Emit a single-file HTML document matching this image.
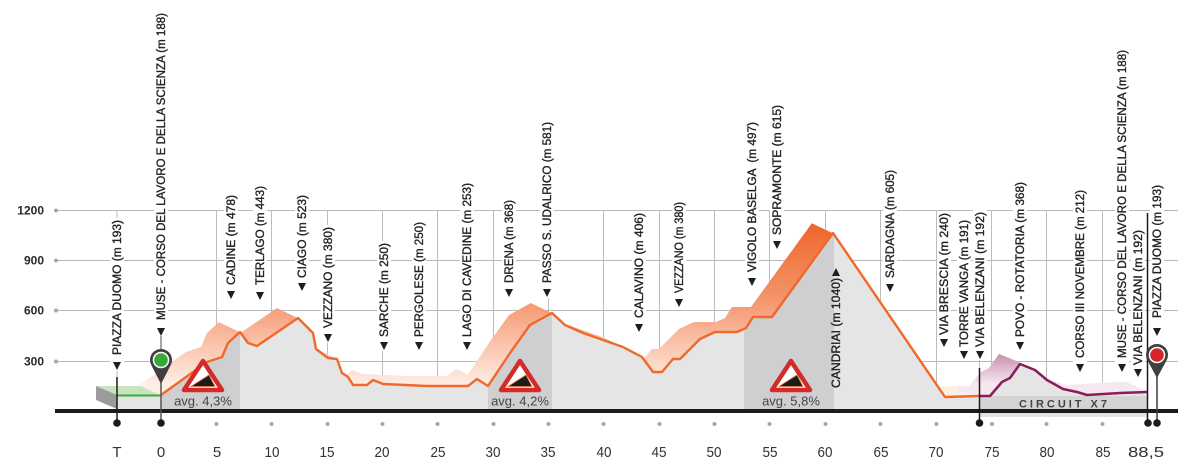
<!DOCTYPE html>
<html><head><meta charset="utf-8"><style>
html,body{margin:0;padding:0;background:#fff;}
svg{display:block;}
text{font-family:"Liberation Sans",sans-serif;}
</style></head><body>
<svg width="1200" height="469" viewBox="0 0 1200 469" xmlns="http://www.w3.org/2000/svg">
<defs>
<linearGradient id="og" gradientUnits="userSpaceOnUse" x1="0" y1="222" x2="0" y2="395">
<stop offset="0" stop-color="#ee5f22"/><stop offset="0.5" stop-color="#f4946a"/><stop offset="1" stop-color="#feeee6"/>
</linearGradient>
<linearGradient id="pg" gradientUnits="userSpaceOnUse" x1="0" y1="352" x2="0" y2="394">
<stop offset="0" stop-color="#b86b94"/><stop offset="1" stop-color="#f6e8ef"/>
</linearGradient>
<polygon id="oshape" points="161,395 207,362 222,357 228,343 240,332 248,343 257,346 298,318 313,333 316,349 328,358 337,359 342,373 348,377 353,385 367,385 373,380 383,384 427,386 468,386 477,379 488,386 510,353 530,325 552,313 565,325 583,333 623,347 642,357 653,372 662,372 673,359 680,359 700,339 715,332 737,332 746,328 753,317 772,317 833,233 945,397 979,396 979,400 161,400"/>
<polygon id="pshape" points="979,396 990,396 1002,382 1010,378 1020,364 1035,370 1047,380 1063,389 1077,392 1087,395 1120,393 1148,392 1148,400 979,400"/>
<clipPath id="mainclip"><polygon points="117,395 161,395 207,362 222,357 228,343 240,332 248,343 257,346 298,318 313,333 316,349 328,358 337,359 342,373 348,377 353,385 367,385 373,380 383,384 427,386 468,386 477,379 488,386 510,353 530,325 552,313 565,325 583,333 623,347 642,357 653,372 662,372 673,359 680,359 700,339 715,332 737,332 746,328 753,317 772,317 833,233 945,397 979,396 990,396 1002,382 1010,378 1020,364 1035,370 1047,380 1063,389 1077,392 1087,395 1120,393 1148,392 1148,409 117,409"/></clipPath>
</defs>

<!-- horizontal grid -->
<g stroke="#b8b8b8" stroke-width="1">
<line x1="56" y1="210.5" x2="1178" y2="210.5"/>
<line x1="56" y1="260.5" x2="1178" y2="260.5"/>
<line x1="56" y1="310.5" x2="1178" y2="310.5"/>
<line x1="56" y1="361.5" x2="1178" y2="361.5"/>
</g>
<g fill="#a8a8a8">
<circle cx="56" cy="210.5" r="2"/><circle cx="56" cy="260.5" r="2"/><circle cx="56" cy="310.5" r="2"/><circle cx="56" cy="361.5" r="2"/>
</g>
<!-- vertical grid -->
<g stroke="#bdbdbd" stroke-width="1">
<line x1="117" y1="210" x2="117" y2="380"/>
<line x1="979.5" y1="210" x2="979.5" y2="370"/>
<line x1="216.5" y1="210" x2="216.5" y2="409"/>
<line x1="271.5" y1="210" x2="271.5" y2="409"/>
<line x1="327.5" y1="210" x2="327.5" y2="409"/>
<line x1="382.5" y1="210" x2="382.5" y2="409"/>
<line x1="437.5" y1="210" x2="437.5" y2="409"/>
<line x1="493.5" y1="210" x2="493.5" y2="409"/>
<line x1="548.5" y1="210" x2="548.5" y2="409"/>
<line x1="603.5" y1="210" x2="603.5" y2="409"/>
<line x1="659.5" y1="210" x2="659.5" y2="409"/>
<line x1="714.5" y1="210" x2="714.5" y2="409"/>
<line x1="769.5" y1="210" x2="769.5" y2="409"/>
<line x1="825.5" y1="210" x2="825.5" y2="409"/>
<line x1="880.5" y1="210" x2="880.5" y2="409"/>
<line x1="936.5" y1="210" x2="936.5" y2="409"/>
<line x1="991.5" y1="210" x2="991.5" y2="409"/>
<line x1="1046.5" y1="210" x2="1046.5" y2="409"/>
<line x1="1102.5" y1="210" x2="1102.5" y2="409"/>
</g>

<!-- label backgrounds -->
<g fill="#fff">
<rect x="110" y="218" width="14" height="153"/>
<rect x="154" y="11" width="14" height="326"/>
<rect x="224" y="193" width="14" height="107"/>
<rect x="253" y="184" width="14" height="117"/>
<rect x="295" y="193" width="14" height="99"/>
<rect x="321" y="225" width="14" height="118"/>
<rect x="377" y="241" width="14" height="110"/>
<rect x="412" y="220" width="14" height="131"/>
<rect x="460" y="181" width="14" height="170"/>
<rect x="502" y="198" width="14" height="100"/>
<rect x="540" y="120" width="14" height="178"/>
<rect x="632" y="211" width="14" height="122"/>
<rect x="672" y="200" width="14" height="108"/>
<rect x="745" y="120" width="14" height="167"/>
<rect x="770" y="103" width="14" height="147"/>
<rect x="883" y="168" width="14" height="125"/>
<rect x="937" y="211" width="14" height="137"/>
<rect x="957" y="218" width="14" height="142"/>
<rect x="973" y="210" width="14" height="150"/>
<rect x="1013" y="180" width="14" height="171"/>
<rect x="1073" y="188" width="14" height="185"/>
<rect x="1115" y="48" width="14" height="325"/>
<rect x="1131" y="228" width="14" height="150"/>
<rect x="1150" y="183" width="14" height="154"/>
</g>

<!-- labels -->
<g font-size="11.5" fill="#222" stroke="#222" stroke-width="0.35">
<text transform="translate(121,355) rotate(-90)" textLength="135" lengthAdjust="spacingAndGlyphs">PIAZZA DUOMO (m 193)</text>
<text transform="translate(165,320) rotate(-90)" textLength="307" lengthAdjust="spacingAndGlyphs">MUSE - CORSO DEL LAVORO E DELLA SCIENZA (m 188)</text>
<text transform="translate(235,285) rotate(-90)" textLength="90" lengthAdjust="spacingAndGlyphs">CADINE (m 478)</text>
<text transform="translate(264,285) rotate(-90)" textLength="99" lengthAdjust="spacingAndGlyphs">TERLAGO (m 443)</text>
<text transform="translate(306,278) rotate(-90)" textLength="83" lengthAdjust="spacingAndGlyphs">CIAGO (m 523)</text>
<text transform="translate(332,328) rotate(-90)" textLength="101" lengthAdjust="spacingAndGlyphs">VEZZANO (m 380)</text>
<text transform="translate(388,337) rotate(-90)" textLength="94" lengthAdjust="spacingAndGlyphs">SARCHE (m 250)</text>
<text transform="translate(423,337) rotate(-90)" textLength="115" lengthAdjust="spacingAndGlyphs">PERGOLESE (m 250)</text>
<text transform="translate(471,337) rotate(-90)" textLength="154" lengthAdjust="spacingAndGlyphs">LAGO DI CAVEDINE (m 253)</text>
<text transform="translate(513,283) rotate(-90)" textLength="83" lengthAdjust="spacingAndGlyphs">DRENA (m 368)</text>
<text transform="translate(551,283) rotate(-90)" textLength="161" lengthAdjust="spacingAndGlyphs">PASSO S. UDALRICO (m 581)</text>
<text transform="translate(643,318) rotate(-90)" textLength="105" lengthAdjust="spacingAndGlyphs">CALAVINO (m 406)</text>
<text transform="translate(683,293) rotate(-90)" textLength="91" lengthAdjust="spacingAndGlyphs">VEZZANO (m 380)</text>
<text transform="translate(756,272) rotate(-90)" textLength="150" lengthAdjust="spacingAndGlyphs" xml:space="preserve">VIGOLO BASELGA  (m 497)</text>
<text transform="translate(781,235) rotate(-90)" textLength="130" lengthAdjust="spacingAndGlyphs">SOPRAMONTE (m 615)</text>
<text transform="translate(894,278) rotate(-90)" textLength="108" lengthAdjust="spacingAndGlyphs">SARDAGNA (m 605)</text>
<text transform="translate(948,335) rotate(-90)" textLength="122" lengthAdjust="spacingAndGlyphs">VIA BRESCIA (m 240)</text>
<text transform="translate(968,347) rotate(-90)" textLength="127" lengthAdjust="spacingAndGlyphs">TORRE VANGA (m 191)</text>
<text transform="translate(984,347) rotate(-90)" textLength="135" lengthAdjust="spacingAndGlyphs">VIA BELENZANI (m 192)</text>
<text transform="translate(1024,337) rotate(-90)" textLength="155" lengthAdjust="spacingAndGlyphs">POVO - ROTATORIA (m 368)</text>
<text transform="translate(1084,358) rotate(-90)" textLength="168" lengthAdjust="spacingAndGlyphs">CORSO III NOVEMBRE (m 212)</text>
<text transform="translate(1126,358) rotate(-90)" textLength="308" lengthAdjust="spacingAndGlyphs">MUSE - CORSO DEL LAVORO E DELLA SCIENZA (m 188)</text>
<text transform="translate(1142,365) rotate(-90)" textLength="135" lengthAdjust="spacingAndGlyphs">VIA BELENZANI (m 192)</text>
<text transform="translate(1161,318) rotate(-90)" textLength="133" lengthAdjust="spacingAndGlyphs">PIAZZA DUOMO (m 193)</text>
</g>
<g fill="#1e1e1e">
<polygon points="113,362 121,362 117,370"/>
<polygon points="157,328 165,328 161,336"/>
<polygon points="227,291 235,291 231,299"/>
<polygon points="256,292 264,292 260,300"/>
<polygon points="298,283 306,283 302,291"/>
<polygon points="324,334 332,334 328,342"/>
<polygon points="380,342 388,342 384,350"/>
<polygon points="415,342 423,342 419,350"/>
<polygon points="463,342 471,342 467,350"/>
<polygon points="505,289 513,289 509,297"/>
<polygon points="543,289 551,289 547,297"/>
<polygon points="635,324 643,324 639,332"/>
<polygon points="675,299 683,299 679,307"/>
<polygon points="748,278 756,278 752,286"/>
<polygon points="773,241 781,241 777,249"/>
<polygon points="886,284 894,284 890,292"/>
<polygon points="940,339 948,339 944,347"/>
<polygon points="960,351 968,351 964,359"/>
<polygon points="976,351 984,351 980,359"/>
<polygon points="1016,342 1024,342 1020,350"/>
<polygon points="1076,364 1084,364 1080,372"/>
<polygon points="1118,364 1126,364 1122,372"/>
<polygon points="1134,369 1142,369 1138,377"/>
<polygon points="1153,328 1161,328 1157,336"/>
</g>

<!-- orange extrusion band -->
<g fill="url(#og)">
<use href="#oshape"/>
<use href="#oshape" transform="translate(-1,-0.476)"/>
<use href="#oshape" transform="translate(-2,-0.952)"/>
<use href="#oshape" transform="translate(-3,-1.429)"/>
<use href="#oshape" transform="translate(-4,-1.905)"/>
<use href="#oshape" transform="translate(-5,-2.381)"/>
<use href="#oshape" transform="translate(-6,-2.857)"/>
<use href="#oshape" transform="translate(-7,-3.333)"/>
<use href="#oshape" transform="translate(-8,-3.810)"/>
<use href="#oshape" transform="translate(-9,-4.286)"/>
<use href="#oshape" transform="translate(-10,-4.762)"/>
<use href="#oshape" transform="translate(-11,-5.238)"/>
<use href="#oshape" transform="translate(-12,-5.714)"/>
<use href="#oshape" transform="translate(-13,-6.190)"/>
<use href="#oshape" transform="translate(-14,-6.667)"/>
<use href="#oshape" transform="translate(-15,-7.143)"/>
<use href="#oshape" transform="translate(-16,-7.619)"/>
<use href="#oshape" transform="translate(-17,-8.095)"/>
<use href="#oshape" transform="translate(-18,-8.571)"/>
<use href="#oshape" transform="translate(-19,-9.048)"/>
<use href="#oshape" transform="translate(-20,-9.524)"/>
<use href="#oshape" transform="translate(-21,-10)"/>
</g>
<!-- purple extrusion band -->
<g fill="url(#pg)">
<use href="#pshape"/>
<use href="#pshape" transform="translate(-1,-0.476)"/>
<use href="#pshape" transform="translate(-2,-0.952)"/>
<use href="#pshape" transform="translate(-3,-1.429)"/>
<use href="#pshape" transform="translate(-4,-1.905)"/>
<use href="#pshape" transform="translate(-5,-2.381)"/>
<use href="#pshape" transform="translate(-6,-2.857)"/>
<use href="#pshape" transform="translate(-7,-3.333)"/>
<use href="#pshape" transform="translate(-8,-3.810)"/>
<use href="#pshape" transform="translate(-9,-4.286)"/>
<use href="#pshape" transform="translate(-10,-4.762)"/>
<use href="#pshape" transform="translate(-11,-5.238)"/>
<use href="#pshape" transform="translate(-12,-5.714)"/>
<use href="#pshape" transform="translate(-13,-6.190)"/>
<use href="#pshape" transform="translate(-14,-6.667)"/>
<use href="#pshape" transform="translate(-15,-7.143)"/>
<use href="#pshape" transform="translate(-16,-7.619)"/>
<use href="#pshape" transform="translate(-17,-8.095)"/>
<use href="#pshape" transform="translate(-18,-8.571)"/>
<use href="#pshape" transform="translate(-19,-9.048)"/>
<use href="#pshape" transform="translate(-20,-9.524)"/>
<use href="#pshape" transform="translate(-21,-10)"/>
</g>

<!-- start block -->
<polygon points="96,386 140,386 161,395 117,395" fill="#c6e4be"/>
<polygon points="96,386 117,395 117,409 96,400" fill="#9b9b9b"/>

<!-- main gray fill -->
<rect x="0" y="0" width="1200" height="469" fill="#e5e5e5" clip-path="url(#mainclip)"/>
<g fill="#cfcfd2" clip-path="url(#mainclip)">
<rect x="161" y="200" width="79" height="211"/>
<rect x="488" y="200" width="64" height="211"/>
<rect x="744" y="200" width="90" height="211"/>
</g>

<!-- circuit box -->
<rect x="979" y="396" width="169" height="14" fill="#d4d4d4"/>
<rect x="979" y="412" width="169" height="5" fill="#e2e2e2"/>
<text x="1063" y="407.5" font-size="11" font-weight="bold" fill="#444" text-anchor="middle" textLength="88" lengthAdjust="spacing">CIRCUIT X7</text>

<!-- profile lines -->
<polyline fill="none" stroke="#f0692b" stroke-width="2.4" stroke-linejoin="round" points="161,395 207,362 222,357 228,343 240,332 248,343 257,346 298,318 313,333 316,349 328,358 337,359 342,373 348,377 353,385 367,385 373,380 383,384 427,386 468,386 477,379 488,386 510,353 530,325 552,313 565,325 583,333 623,347 642,357 653,372 662,372 673,359 680,359 700,339 715,332 737,332 746,328 753,317 772,317 833,233 945,397 979,396"/>
<polyline fill="none" stroke="#8a1b5c" stroke-width="2.5" stroke-linejoin="round" points="979,396 990,396 1002,382 1010,378 1020,364 1035,370 1047,380 1063,389 1077,392 1087,395 1120,393 1148,392"/>
<line x1="117" y1="395.5" x2="161" y2="395.5" stroke="#3aaa35" stroke-width="2"/>

<!-- Candriai label on profile -->
<text transform="translate(840,388) rotate(-90)" font-size="11.5" fill="#222" stroke="#222" stroke-width="0.35" textLength="110" lengthAdjust="spacingAndGlyphs">CANDRIAI (m 1040)</text>
<polygon points="832,276 840,276 836,268" fill="#1e1e1e"/>

<!-- baseline -->
<rect x="55" y="409" width="1123" height="4" fill="#1b1b1b"/>

<!-- marker lines -->
<line x1="117" y1="377" x2="117" y2="423" stroke="#1b1b1b" stroke-width="1.5"/>
<line x1="979.5" y1="368" x2="979.5" y2="423" stroke="#1b1b1b" stroke-width="1.5"/>
<line x1="1147.5" y1="213" x2="1147.5" y2="423" stroke="#1b1b1b" stroke-width="1.5"/>
<line x1="161" y1="336" x2="161" y2="350" stroke="#888" stroke-width="1.5"/>
<line x1="161" y1="380" x2="161" y2="423" stroke="#555" stroke-width="1.5"/>
<line x1="1157" y1="375" x2="1157" y2="423" stroke="#3a3a3a" stroke-width="1.5"/>

<!-- tick dots -->
<g fill="#a8a8a8">
<circle cx="216.5" cy="424" r="2"/><circle cx="271.5" cy="424" r="2"/><circle cx="327.5" cy="424" r="2"/><circle cx="382.5" cy="424" r="2"/><circle cx="437.5" cy="424" r="2"/><circle cx="493.5" cy="424" r="2"/><circle cx="548.5" cy="424" r="2"/><circle cx="603.5" cy="424" r="2"/><circle cx="659.5" cy="424" r="2"/><circle cx="714.5" cy="424" r="2"/><circle cx="769.5" cy="424" r="2"/><circle cx="825.5" cy="424" r="2"/><circle cx="880.5" cy="424" r="2"/><circle cx="936.5" cy="424" r="2"/><circle cx="992" cy="424" r="2"/><circle cx="1046.5" cy="424" r="2"/><circle cx="1102.5" cy="424" r="2"/>
</g>
<g fill="#1b1b1b">
<circle cx="117" cy="423" r="3.8"/><circle cx="161" cy="423" r="3.8"/><circle cx="979.5" cy="423" r="3.8"/><circle cx="1148" cy="423" r="3.8"/><circle cx="1157" cy="423" r="3.8"/>
</g>

<!-- pins -->
<path d="M161,384 L151.5,365.5 A11,11 0 1 1 170.5,365.5 Z" fill="#3f3f3f"/>
<circle cx="161" cy="360" r="8.3" fill="#fff"/>
<circle cx="161" cy="360" r="6.8" fill="#37a839"/>
<path d="M1157,378 L1147.5,360.5 A11,11 0 1 1 1166.5,360.5 Z" fill="#3f3f3f"/>
<circle cx="1157" cy="355" r="8.3" fill="#fff"/>
<circle cx="1157" cy="355" r="6.8" fill="#d9232a"/>

<!-- climb icons -->
<g>
<polygon points="203,361 222,390 184,390" fill="#fff" stroke="#d52a2a" stroke-width="4.5" stroke-linejoin="round"/>
<polygon points="191,386.5 201,380 209,375 215,386.5" fill="#1c1c1c" stroke="#e07a40" stroke-width="0.8"/>
<polygon points="520,361 539,390 501,390" fill="#fff" stroke="#d52a2a" stroke-width="4.5" stroke-linejoin="round"/>
<polygon points="508,386.5 518,380 526,375 532,386.5" fill="#1c1c1c" stroke="#e07a40" stroke-width="0.8"/>
<polygon points="791,361 810,390 772,390" fill="#fff" stroke="#d52a2a" stroke-width="4.5" stroke-linejoin="round"/>
<polygon points="779,386.5 789,380 797,375 803,386.5" fill="#1c1c1c" stroke="#e07a40" stroke-width="0.8"/>
</g>
<g font-size="13" fill="#444" text-anchor="middle">
<text x="203" y="405.5">avg. 4,3%</text>
<text x="520" y="405.5">avg. 4,2%</text>
<text x="791" y="405.5">avg. 5,8%</text>
</g>

<!-- y labels -->
<g font-size="12" font-weight="bold" fill="#2a2a2a" text-anchor="end">
<text x="44" y="214.5">1200</text>
<text x="44" y="264.5">900</text>
<text x="44" y="314.5">600</text>
<text x="44" y="365.5">300</text>
</g>

<!-- x labels -->
<g font-size="15" fill="#333" text-anchor="middle">
<text x="117" y="457">T</text>
<text x="161" y="457">0</text>
<text x="217" y="457">5</text>
<text x="272" y="457" textLength="15" lengthAdjust="spacingAndGlyphs">10</text>
<text x="327" y="457" textLength="15" lengthAdjust="spacingAndGlyphs">15</text>
<text x="382" y="457" textLength="15" lengthAdjust="spacingAndGlyphs">20</text>
<text x="438" y="457" textLength="15" lengthAdjust="spacingAndGlyphs">25</text>
<text x="493" y="457" textLength="15" lengthAdjust="spacingAndGlyphs">30</text>
<text x="548" y="457" textLength="15" lengthAdjust="spacingAndGlyphs">35</text>
<text x="604" y="457" textLength="15" lengthAdjust="spacingAndGlyphs">40</text>
<text x="659" y="457" textLength="15" lengthAdjust="spacingAndGlyphs">45</text>
<text x="714" y="457" textLength="15" lengthAdjust="spacingAndGlyphs">50</text>
<text x="770" y="457" textLength="15" lengthAdjust="spacingAndGlyphs">55</text>
<text x="825" y="457" textLength="15" lengthAdjust="spacingAndGlyphs">60</text>
<text x="881" y="457" textLength="15" lengthAdjust="spacingAndGlyphs">65</text>
<text x="936" y="457" textLength="15" lengthAdjust="spacingAndGlyphs">70</text>
<text x="992" y="457" textLength="15" lengthAdjust="spacingAndGlyphs">75</text>
<text x="1047" y="457" textLength="15" lengthAdjust="spacingAndGlyphs">80</text>
<text x="1103" y="457" textLength="15" lengthAdjust="spacingAndGlyphs">85</text>
<text x="1146" y="457" textLength="36" lengthAdjust="spacingAndGlyphs">88,5</text>
</g>
</svg>
</body></html>
